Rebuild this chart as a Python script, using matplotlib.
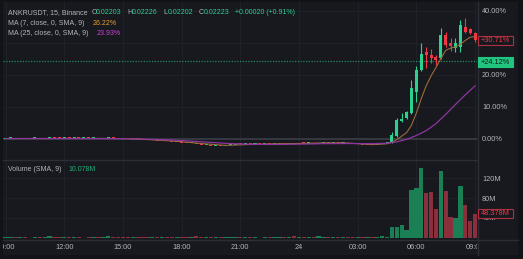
import matplotlib
matplotlib.use("Agg")
import matplotlib.pyplot as plt
from matplotlib.patches import Rectangle
from matplotlib.lines import Line2D
from matplotlib.transforms import Bbox
import numpy as np

# 15-minute bars, index 0 = 09:00 (day 23), index 96 = 09:00 (day 24); values in %
opens = [0.00, 0.05, 0.10, 0.02, 0.06, -0.02, 0.03, 0.08, 0.00, 0.04,
         0.15, 0.08, 0.05, 0.22, 0.12, 0.18, 0.10, 0.14, 0.06, 0.10,
         0.02, 0.05, 0.20, 0.08, 0.02, -0.05, -0.10, 0.05, -0.20, -0.30,
         -0.45, -0.40, -0.60, -0.55, -0.80, -0.95, -0.85, -1.20, -1.40, -1.30,
         -1.75, -2.00, -1.90, -2.20, -2.10, -2.35, -2.00, -1.85, -1.70, -1.80,
         -1.60, -1.70, -1.50, -1.65, -1.55, -1.70, -1.60, -1.55, -1.65, -1.45,
         -1.55, -1.30, -1.50, -1.40, -1.60, -1.35, -1.10, -1.25, -1.00, -1.40,
         -1.30, -1.60, -1.75, -1.65, -1.90, -1.85, -2.00, -1.80, -1.40,
         -0.90, 0.80, 5.60, 6.50, 8.00, 14.60, 21.40, 27.00, 26.20, 25.40,
         25.20, 32.40, 30.00, 28.20, 28.70, 35.00, 34.20, 33.10]
closes = [0.05, 0.10, 0.02, 0.06, -0.02, 0.03, 0.08, 0.00, 0.04, 0.15,
          0.08, 0.05, 0.22, 0.12, 0.18, 0.10, 0.14, 0.06, 0.10, 0.02,
          0.05, 0.20, 0.08, 0.02, -0.05, -0.10, 0.05, -0.20, -0.30, -0.45,
          -0.40, -0.60, -0.55, -0.80, -0.95, -0.85, -1.20, -1.40, -1.30, -1.75,
          -2.00, -1.90, -2.20, -2.10, -2.35, -2.00, -1.85, -1.70, -1.80, -1.60,
          -1.70, -1.50, -1.65, -1.55, -1.70, -1.60, -1.55, -1.65, -1.45, -1.55,
          -1.30, -1.50, -1.40, -1.60, -1.35, -1.10, -1.25, -1.00, -1.40, -1.30,
          -1.60, -1.75, -1.65, -1.90, -1.85, -2.00, -1.80, -1.40, -1.10,
          1.20, 5.80, 6.20, 8.30, 15.80, 21.50, 26.60, 26.20, 25.10, 24.60,
          32.40, 29.30, 29.00, 30.00, 35.50, 33.40, 33.10, 30.71]

# visible wicks (rally part only)
wick_idx = list(range(79, 97))
highs = [2.1, 6.6, 8.1, 8.6, 18.4, 22.8, 29.9, 28.7, 28.1, 26.3,
         34.5, 33.3, 31.3, 31.3, 37.0, 37.6, 34.6, 33.3]
lows = [-1.2, 0.5, 5.3, 6.2, 7.8, 11.5, 21.0, 22.0, 23.6, 23.0,
        24.8, 28.8, 27.3, 27.2, 27.2, 33.0, 32.7, 30.3]

volumes = [1.2, 0.8, 0.6, 0.9, 0.7, 0.5, 0.8, 0.6, 0.9, 3.0,
           0.8, 0.6, 1.0, 0.7, 0.9, 0.6, 0.5, 0.8, 0.7, 0.6,
           0.8, 2.6, 0.9, 0.7, 0.6, 0.8, 1.1, 0.9, 1.0, 1.2,
           0.9, 1.1, 0.8, 1.3, 1.0, 0.9, 1.2, 1.1, 0.8, 3.0,
           1.2, 0.9, 1.1, 0.8, 1.0, 0.9, 0.7, 0.8, 0.6, 0.7,
           0.6, 0.8, 0.5, 0.7, 0.6, 0.9, 0.7, 0.6, 0.8, 2.8,
           1.0, 0.8, 0.7, 0.9, 2.6, 0.8, 1.0, 0.9, 0.7, 0.8,
           0.9, 0.7, 1.0, 2.4, 0.8, 0.9, 1.1, 3.8, 1.5,
           22, 22, 25, 15, 96, 101, 140, 90, 92, 58,
           135, 94, 41, 39, 105, 66, 34, 48.378]

ma7_idx = [0, 10, 20, 25, 30, 35, 40, 45, 50, 55, 60, 65, 70, 75, 78,
           79, 80, 81, 82, 83, 84, 85, 86, 87, 88, 89, 90, 91, 92, 93, 94, 95, 96]
ma7 = [0.05, 0.07, 0.10, 0.0, -0.35, -0.8, -1.5, -2.1, -1.8, -1.6, -1.5, -1.3, -1.35, -1.85, -1.6,
       -1.1, -0.3, 0.8, 1.9, 4.2, 8.0, 12.5, 16.5, 19.6, 22.2, 25.0, 27.6, 28.3, 28.7, 29.5, 30.7, 31.7, 31.9]
ma25_idx = [0, 15, 25, 30, 35, 40, 45, 50, 55, 60, 65, 70, 75, 78, 80, 82, 84, 86, 88, 90, 92, 94, 96]
ma25 = [0.05, 0.05, 0.0, -0.2, -0.5, -0.95, -1.45, -1.75, -1.8, -1.7, -1.55, -1.5, -1.55, -1.4,
        -1.0, -0.2, 1.0, 2.5, 4.7, 7.6, 10.7, 13.7, 16.5]

time_ticks = [0, 12, 24, 36, 48, 60, 72, 84, 96]
time_labels = ['09:00', '12:00', '15:00', '18:00', '21:00', '24', '03:00', '06:00', '09:00']
price_ticks = [0, 10, 20, 40]
price_labels = ['0.00%', '10.00%', '20.00%', '40.00%']
vol_ticks = [40, 80, 120]
vol_labels = ['40M', '80M', '120M']

W, H = 523, 259
BG = '#17191e'
FRAME = '#111316'
GRID = '#1e2127'
SEP = '#2b2e36'
TXT = '#b2b5be'
UP = '#2bd18e'
DOWN = '#f23645'
VUP = '#1b7f56'
VDOWN = '#8c2f3d'
FONT = 'Liberation Sans'
FS = 5.3      # axis labels
LFS = 5.0     # legend

plt.rcParams['font.family'] = [FONT, 'DejaVu Sans']


def fx(px):
    return px / W


def fy(py):
    return 1 - py / H


fig = plt.figure(figsize=(W / 100, H / 100), dpi=100, facecolor=FRAME)
fig.patches.append(Rectangle((fx(3), fy(255)), 515 / W, 253 / H, transform=fig.transFigure,
                             facecolor=BG, edgecolor='none', zorder=-10))

ax_p = fig.add_axes([fx(3), fy(159), 474 / W, 157 / H], facecolor=BG)
ax_v = fig.add_axes([fx(3), fy(239), 474 / W, 79 / H], facecolor=BG, sharex=ax_p)

x = np.arange(len(closes))
o = np.array(opens)
c = np.array(closes)
up = c >= o

# grid
for a in (ax_p, ax_v):
    for t in time_ticks:
        a.axvline(t, color=GRID, lw=0.8, zorder=0)
    for s in a.spines.values():
        s.set_visible(False)
for t in price_ticks + [30]:
    ax_p.axhline(t, color=GRID, lw=0.8, zorder=0)
for t in vol_ticks:
    ax_v.axhline(t, color=GRID, lw=0.8, zorder=0)

# baseline and last-price dotted line
ax_p.axhline(0, color='#383b43', lw=1.3, zorder=1)
ax_p.axhline(24.12, color='#1f8a5f', lw=0.9, ls=(0, (1, 1.2)), zorder=1)

# candles
ax_p.vlines(wick_idx, lows, highs, colors=[UP if up[i] else DOWN for i in wick_idx], lw=0.8, zorder=3)
body_h = np.maximum(np.abs(c - o), 0.35)
body_b = np.minimum(o, c)
ax_p.bar(x, body_h, bottom=body_b, width=0.62, color=np.where(up, UP, DOWN), lw=0, zorder=4)

# moving averages
ax_p.plot(ma7_idx, ma7, color='#9b6b38', lw=0.8, zorder=5)
ax_p.plot(ma25_idx, ma25, color='#8e35a0', lw=0.9, zorder=5)

ax_p.set_xlim(-0.53, 96.4)
ax_p.set_ylim(-6.34, 42.7)
ax_p.yaxis.tick_right()
ax_p.set_yticks(price_ticks)
ax_p.set_yticklabels(price_labels)
ax_p.tick_params(axis='y', length=0, pad=3.6, labelsize=FS, labelcolor=TXT)
ax_p.tick_params(axis='x', length=0, labelbottom=False)

# volume
ax_v.bar(x, volumes, width=0.88, color=np.where(up, VUP, VDOWN), lw=0, zorder=3)
ax_v.set_ylim(-2.5, 157)
ax_v.yaxis.tick_right()
ax_v.set_yticks(vol_ticks)
ax_v.set_yticklabels(vol_labels)
ax_v.tick_params(axis='y', length=0, pad=3.6, labelsize=FS, labelcolor=TXT)
ax_v.set_xticks(time_ticks)
ax_v.set_xticklabels(time_labels)
ax_v.tick_params(axis='x', length=0, pad=3.6, labelsize=FS, labelcolor=TXT)
clip = Bbox.from_extents(3, 0, 477, H)
for lab in ax_v.get_xticklabels():
    lab.set_clip_box(clip)
    lab.set_clip_on(True)

# separators
for (x0, y0, x1, y1) in [(3, 159.5, 477, 159.5), (3, 239.5, 518, 239.5), (477.5, 2, 477.5, 255)]:
    fig.lines.append(Line2D([fx(x0), fx(x1)], [fy(y0), fy(y1)], transform=fig.transFigure,
                            color=SEP, lw=1.0))

# price labels on the right axis
def tag(ycen, text, fill, edge, tcol):
    fig.patches.append(Rectangle((fx(478), fy(ycen + 4.8)), 35 / W, 9.6 / H, transform=fig.transFigure,
                                 facecolor=fill, edgecolor=edge, lw=0.8, zorder=20))
    fig.text(fx(495.5), fy(ycen), text, ha='center', va='center', fontsize=FS, color=tcol, zorder=21)


tag(40.6, '+30.71%', BG, '#b03040', DOWN)
tag(62.0, '+24.12%', '#22c580', '#22c580', '#0f1a14')
tag(213.5, '48.378M', BG, '#b03040', DOWN)

# legend
def t(px, py, s, col):
    fig.text(fx(px), fy(py), s, ha='left', va='center', fontsize=LFS, color=col)


t(8, 12.7, 'ANKRUSDT, 15, Binance', TXT)
for px, lab, val in [(91.5, 'O', '0.02203'), (127.5, 'H', '0.02226'), (163, 'L', '0.02202'), (199, 'C', '0.02223')]:
    t(px, 12.7, lab, TXT)
    t(px + 4.6, 12.7, val, UP)
t(235, 12.7, '+0.00020 (+0.91%)', UP)
t(8, 23.3, 'MA (7, close, 0, SMA, 9)', TXT)
t(93, 23.3, '26.22%', '#eca030')
t(8, 33.7, 'MA (25, close, 0, SMA, 9)', TXT)
t(96.5, 33.7, '23.93%', '#d23fe0')
t(8, 169.3, 'Volume (SMA, 9)', TXT)
t(68, 169.3, '10.078M', '#22ab74')

fig.savefig('out.png', dpi=100, facecolor=FRAME)
